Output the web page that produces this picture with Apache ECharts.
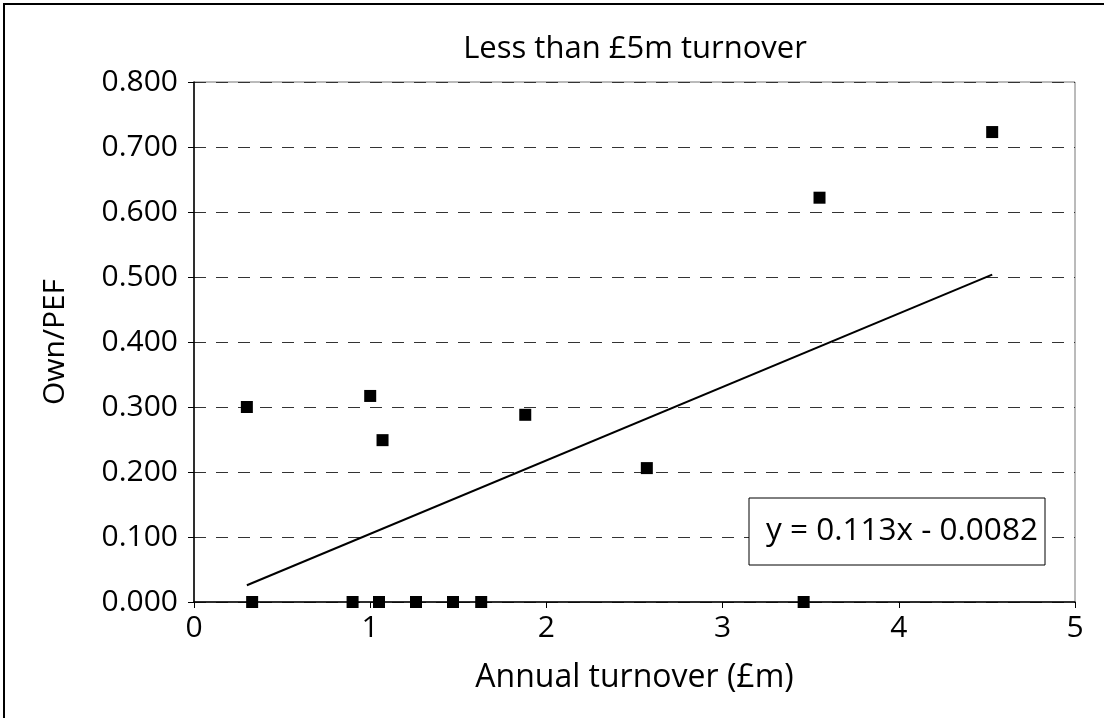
<!DOCTYPE html>
<html>
<head>
<meta charset="utf-8">
<script src="https://cdn.jsdelivr.net/npm/echarts@6/dist/echarts.min.js"></script>
<style>
    html, body { margin: 0; padding: 0; background: #fff; }
    #chart { width: 1104px; height: 718px; }
</style>
</head>
<body>
<div id="chart"></div>
<script>
// turnover (£m) and Own/PEF ratio per firm
const turnover = [0.30, 0.33, 1.00, 1.07, 0.90, 1.05, 1.26, 1.47, 1.63, 1.88, 2.57, 3.46, 3.55, 4.53];
const ownPef = [0.300, 0.000, 0.317, 0.249, 0.000, 0.000, 0.000, 0.000, 0.000, 0.288, 0.206, 0.000, 0.622, 0.723];
// linear trend: y = slope * x + intercept
const slope = 0.113;
const intercept = -0.0082;
const yTicks = [0, 0.1, 0.2, 0.3, 0.4, 0.5, 0.6, 0.7, 0.8];
const xTicks = [0, 1, 2, 3, 4, 5];

const points = turnover.map((x, i) => [x, ownPef[i]]);
const xMin = Math.min(...turnover);
const xMax = Math.max(...turnover);
const trend = [
    [xMin, slope * xMin + intercept],
    [xMax, slope * xMax + intercept],
];

const font = '"Open Sans", "Noto Sans", sans-serif';
const myChart = echarts.init(document.getElementById('chart'));
const option = {
    animation: false,
    textStyle: {fontFamily: font},
    title: {
        text: 'Less than £5m turnover',
        left: 630,
        top: 29,
        textAlign: 'center',
        textStyle: {fontFamily: font, fontSize: 31, fontWeight: 'normal', color: '#000'},
    },
    grid: {
        left: 194,
        top: 82,
        right: 29,
        bottom: 116,
        show: true,
        borderColor: '#777',
        borderWidth: 1,
    },
    xAxis: {
        type: 'value',
        min: xTicks[0],
        max: xTicks[xTicks.length - 1],
        interval: 1,
        name: 'Annual turnover (£m)',
        nameLocation: 'middle',
        nameGap: 60,
        nameTextStyle: {fontSize: 32, color: '#000', fontFamily: font},
        axisLine: {lineStyle: {color: '#000', width: 1.5}},
        axisTick: {show: true, length: 6, lineStyle: {color: '#000'}},
        axisLabel: {fontSize: 30, color: '#000', margin: 11, fontFamily: font},
        splitLine: {show: false},
    },
    yAxis: {
        type: 'value',
        min: yTicks[0],
        max: yTicks[yTicks.length - 1],
        interval: 0.1,
        name: 'Own/PEF',
        nameLocation: 'middle',
        nameGap: 124,
        nameRotate: 90,
        nameTextStyle: {fontSize: 30, color: '#000', fontFamily: font},
        axisLine: {show: true, lineStyle: {color: '#000', width: 1.5}},
        axisTick: {show: true, length: 6, lineStyle: {color: '#000'}},
        axisLabel: {
            fontSize: 30,
            color: '#000',
            margin: 16,
            fontFamily: font,
            formatter: (v) => v.toFixed(3),
        },
        splitLine: {show: true, lineStyle: {color: '#333', type: [12, 10], width: 1}},
    },
    series: [
        {
            type: 'scatter',
            data: points,
            symbol: 'rect',
            symbolSize: 12,
            itemStyle: {color: '#000', opacity: 1},
            z: 3,
        },
        {
            type: 'line',
            data: trend,
            showSymbol: false,
            lineStyle: {color: '#000', width: 2},
            z: 2,
        },
    ],
    graphic: [
        {
            type: 'rect',
            shape: {x: 4, y: 4, width: 1120, height: 740},
            style: {fill: 'none', stroke: '#000', lineWidth: 2},
            silent: true,
        },
        {
            type: 'rect',
            z: 100,
            shape: {x: 749, y: 498, width: 296, height: 67},
            style: {fill: '#fff', stroke: '#000', lineWidth: 1},
        },
        {
            type: 'text',
            z: 101,
            x: 902,
            y: 531,
            style: {
                text: 'y = 0.113x - 0.0082',
                fontSize: 31.5,
                fontFamily: font,
                fill: '#000',
                align: 'center',
                verticalAlign: 'middle',
            },
        },
    ],
};
myChart.setOption(option);
</script>
</body>
</html>
